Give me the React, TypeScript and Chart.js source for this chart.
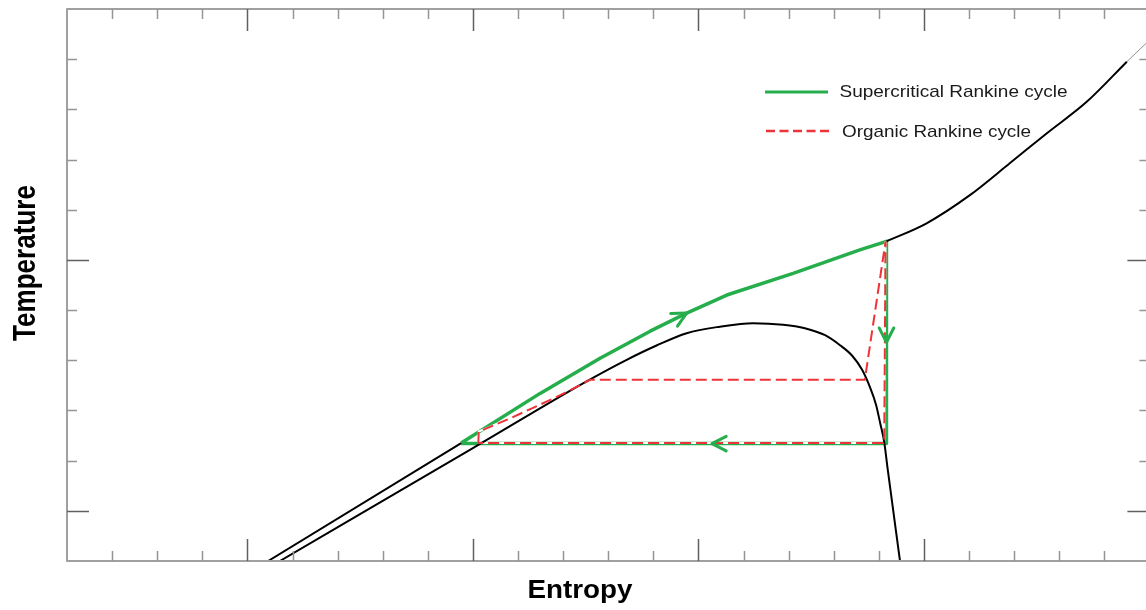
import React, { useEffect, useRef } from 'react';
import { Chart, registerables } from 'chart.js';

Chart.register(...registerables);

// ---- data (x: entropy units, y: temperature units) ----
const hpLiquidX = [4.46, 8.74];
const hpLiquidY = [0, 2.35];

const domeX = [4.72, 9.0, 11.52, 12.41, 13.06, 13.74, 14.48, 15.21, 15.88, 16.36, 16.81, 17.14, 17.41, 17.63, 17.81, 17.94, 18.03, 18.12, 18.20, 18.47];
const domeY = [0, 2.25, 3.58, 4.01, 4.29, 4.54, 4.67, 4.74, 4.71, 4.64, 4.50, 4.30, 4.09, 3.81, 3.45, 3.11, 2.75, 2.37, 1.81, 0];

const superheatX = [18.17, 19.06, 20.02, 20.91, 21.72, 22.61, 23.50];
const superheatY = [6.37, 6.73, 7.29, 7.93, 8.52, 9.15, 9.95];

const tailX = [23.50, 24.0];
const tailY = [9.95, 10.38];

const scrcX = [8.74, 10.49, 11.82, 12.93, 13.74, 14.63, 16.10, 17.58, 18.17, 18.17, 8.74];
const scrcY = [2.35, 3.34, 4.04, 4.58, 4.94, 5.30, 5.73, 6.20, 6.37, 2.34, 2.34];

const orcX = [9.12, 9.13, 9.82, 10.86, 11.60, 17.69, 18.15, 18.12, 9.12];
const orcY = [2.35, 2.58, 2.84, 3.27, 3.61, 3.61, 6.37, 2.35, 2.35];

const arrowX = [13.74, 18.17, 14.30];
const arrowY = [4.94, 4.36, 2.34];
const arrowAngle = [-28, 90, 180];

const xTickValues = [1, 2, 3, 4, 5, 6, 7, 8, 9, 10, 11, 12, 13, 14, 15, 16, 17, 18, 19, 20, 21, 22, 23];
const xMajorTicks = [4, 9, 14, 19];
const yTickValues = [1, 2, 3, 4, 5, 6, 7, 8, 9, 10];
const yMajorTicks = [1, 6];

const seriesLabels = ['Supercritical Rankine cycle', 'Organic Rankine cycle'];
const xTitle = 'Entropy';
const yTitle = 'Temperature';

const GREEN = '#25ae4b';
const RED = '#ee3338';
const BLACK = '#000000';

const pts = (xs: number[], ys: number[]) => xs.map((x, i) => ({ x, y: ys[i] }));

function fitText(ctx: CanvasRenderingContext2D, text: string, x: number, y: number, font: string, width: number, rot: number, color: string) {
  ctx.save();
  ctx.font = font;
  const w = ctx.measureText(text).width;
  ctx.translate(x, y);
  ctx.rotate(rot);
  ctx.scale(width / w, 1);
  ctx.textAlign = 'left';
  ctx.textBaseline = 'alphabetic';
  ctx.fillStyle = color;
  ctx.fillText(text, 0, 0);
  ctx.restore();
}

const decor = {
  id: 'decor',
  afterDatasetsDraw(chart: any) {
    const { ctx, chartArea: a, scales } = chart;
    const xs = scales.x;
    const ys = scales.y;
    ctx.save();

    // arrows
    ctx.strokeStyle = GREEN;
    ctx.lineWidth = 3;
    ctx.lineCap = 'round';
    ctx.lineJoin = 'round';
    arrowX.forEach((ax, i) => {
      const px = xs.getPixelForValue(ax);
      const py = ys.getPixelForValue(arrowY[i]);
      const th = (arrowAngle[i] * Math.PI) / 180;
      const L = 16;
      const h = (27 * Math.PI) / 180;
      ctx.beginPath();
      ctx.moveTo(px - L * Math.cos(th - h), py - L * Math.sin(th - h));
      ctx.lineTo(px, py);
      ctx.lineTo(px - L * Math.cos(th + h), py - L * Math.sin(th + h));
      ctx.stroke();
    });

    // axis frame
    ctx.lineCap = 'butt';
    ctx.strokeStyle = '#a0a0a0';
    ctx.lineWidth = 2;
    ctx.strokeRect(a.left, a.top, a.right - a.left, a.bottom - a.top);

    // ticks
    ctx.lineWidth = 1.5;
    xTickValues.forEach((v) => {
      const major = xMajorTicks.includes(v);
      const len = major ? 22 : 10;
      const px = Math.round(xs.getPixelForValue(v)) + 0.5;
      ctx.strokeStyle = major ? '#606060' : '#959595';
      ctx.beginPath();
      ctx.moveTo(px, a.bottom);
      ctx.lineTo(px, a.bottom - len);
      ctx.moveTo(px, a.top);
      ctx.lineTo(px, a.top + len);
      ctx.stroke();
    });
    yTickValues.forEach((v) => {
      const major = yMajorTicks.includes(v);
      const len = major ? 22 : 10;
      const py = Math.round(ys.getPixelForValue(v)) + 0.5;
      ctx.strokeStyle = major ? '#606060' : '#959595';
      ctx.beginPath();
      ctx.moveTo(a.left, py);
      ctx.lineTo(a.left + len, py);
      ctx.moveTo(a.right, py);
      ctx.lineTo(a.right - len, py);
      ctx.stroke();
    });

    // axis titles
    const fam = '"Liberation Sans", Arial, sans-serif';
    fitText(ctx, xTitle, 527.5, 598, `bold 26px ${fam}`, 105, 0, '#000');
    fitText(ctx, yTitle, 35, 341, `bold 32px ${fam}`, 156, -Math.PI / 2, '#000');

    // legend
    ctx.lineWidth = 3;
    ctx.strokeStyle = GREEN;
    ctx.setLineDash([]);
    ctx.beginPath();
    ctx.moveTo(765, 92);
    ctx.lineTo(828, 92);
    ctx.stroke();
    ctx.lineWidth = 2.5;
    ctx.strokeStyle = RED;
    ctx.setLineDash([9, 4.5]);
    ctx.beginPath();
    ctx.moveTo(766, 131);
    ctx.lineTo(831, 131);
    ctx.stroke();
    ctx.setLineDash([]);
    fitText(ctx, seriesLabels[0], 839.5, 97, `17px ${fam}`, 228, 0, '#1a1a1a');
    fitText(ctx, seriesLabels[1], 842, 136.5, `17px ${fam}`, 189, 0, '#1a1a1a');

    ctx.restore();
  },
};

export default function App() {
  const ref = useRef<HTMLCanvasElement>(null);
  useEffect(() => {
    const chart = new Chart(ref.current as HTMLCanvasElement, {
      type: 'line',
      data: {
        datasets: [
          { label: 'hp', data: pts(hpLiquidX, hpLiquidY), borderColor: BLACK, borderWidth: 2, pointRadius: 0, tension: 0, order: 1 },
          { label: 'dome', data: pts(domeX, domeY), borderColor: BLACK, borderWidth: 2, pointRadius: 0, cubicInterpolationMode: 'monotone', order: 1 },
          { label: 'superheat', data: pts(superheatX, superheatY), borderColor: BLACK, borderWidth: 2, pointRadius: 0, cubicInterpolationMode: 'monotone', order: 1 },
          { label: 'tail', data: pts(tailX, tailY), borderColor: '#909090', borderWidth: 1, pointRadius: 0, tension: 0, order: 1 },
          { label: seriesLabels[0], data: pts(scrcX, scrcY), borderColor: GREEN, borderWidth: 3.5, pointRadius: 0, tension: 0, order: 3, borderJoinStyle: 'round' },
          { label: 'orc-under', data: pts(orcX, orcY), borderColor: '#ffffff', borderWidth: 2, pointRadius: 0, tension: 0, order: 2 },
          { label: seriesLabels[1], data: pts(orcX, orcY), borderColor: RED, borderWidth: 2, borderDash: [11, 5], pointRadius: 0, tension: 0, order: 0 },
        ] as any,
      },
      options: {
        responsive: false,
        animation: false,
        devicePixelRatio: 1,
        layout: { padding: { left: 67, top: 9, right: 10.6, bottom: 49 } },
        scales: {
          x: { type: 'linear', min: 0, max: 24, display: false },
          y: { type: 'linear', min: 0, max: 11, display: false },
        },
        plugins: { legend: { display: false }, tooltip: { enabled: false } },
        elements: { point: { radius: 0 } },
      },
      plugins: [decor],
    });
    return () => chart.destroy();
  }, []);
  return (
    <div style={{ position: 'fixed', left: 0, top: 0, width: 1146, height: 610, overflow: 'hidden', background: '#fff' }}>
      <canvas ref={ref} width={1160} height={610} style={{ display: 'block', width: 1160, height: 610 }} />
    </div>
  );
}
